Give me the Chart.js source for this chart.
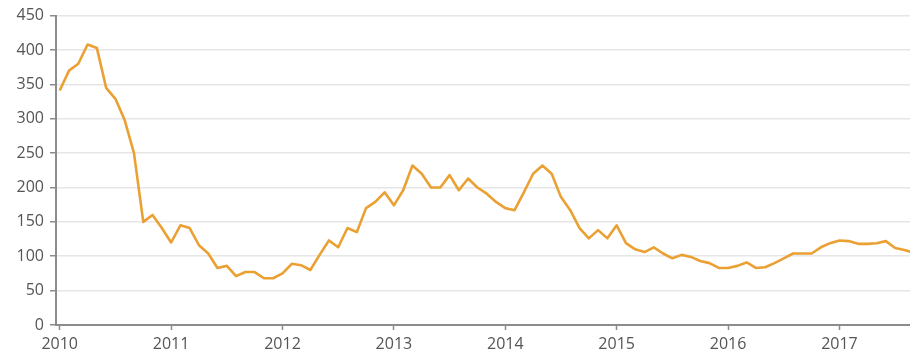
<!DOCTYPE html>
<html lang="en">
  <head>
    <meta charset="UTF-8" />
    <title>Monthly index 2010-2017</title>
    <script src="https://cdn.jsdelivr.net/npm/chart.js@4"></script>
    <style>
      html, body { margin: 0; padding: 0; background: #fff; }
      #wrap { width: 910px; height: 361px; }
    </style>
  </head>
  <body>
    <div id="wrap"><canvas id="myChart" width="910" height="361"></canvas></div>

    <script>
      // monthly readings, first one is Jan 2010
      const values = [
        341, 370, 380, 408, 403, 345, 329, 298, 250, 150, 160, 141,
        120, 145, 141, 116, 104, 83, 86, 71, 77, 77, 68, 68,
        75, 89, 87, 80, 102, 123, 113, 141, 135, 170, 179, 193,
        174, 196, 232, 220, 200, 200, 218, 196, 213, 200, 191, 179,
        170, 167, 193, 220, 232, 220, 186, 167, 141, 126, 138, 126,
        145, 119, 110, 106, 113, 104, 97, 102, 99, 93, 90, 83,
        83, 86, 91, 83, 84, 90, 97, 104, 104, 104, 113, 119,
        123, 122, 118, 118, 119, 122, 112, 109, 105
      ];
      const yearLabels = ['2010', '2011', '2012', '2013', '2014', '2015', '2016', '2017'];
      const yTicks = [0, 50, 100, 150, 200, 250, 300, 350, 400, 450];

      const points = values.map((v, i) => ({ x: i, y: v }));
      const axisGrey = '#8c8c8c';

      window.addEventListener('load', setup);

      function setup() {
        const ctx = document.getElementById('myChart').getContext('2d');
        new Chart(ctx, {
          type: 'line',
          data: {
            datasets: [
              {
                data: points,
                borderColor: '#eaa032',
                borderWidth: 2.6,
                pointRadius: 0,
                tension: 0,
                borderJoinStyle: 'round',
                fill: false
              }
            ]
          },
          options: {
            responsive: false,
            animation: false,
            layout: { padding: { top: 15, right: 0, left: 0, bottom: 0 } },
            plugins: { legend: { display: false }, tooltip: { enabled: false } },
            scales: {
              x: {
                type: 'linear',
                min: -0.4,
                max: 91.6,
                afterBuildTicks: scale => {
                  scale.ticks = yearLabels.map((_, k) => ({ value: k * 12 }));
                },
                afterFit: scale => { scale.height = 36; },
                border: { display: true, color: axisGrey, width: 2 },
                grid: {
                  display: true,
                  drawOnChartArea: false,
                  drawTicks: true,
                  tickLength: 5,
                  tickColor: axisGrey,
                  tickWidth: 1.5
                },
                ticks: {
                  color: '#555',
                  font: { family: 'Open Sans', size: 16 },
                  padding: 5,
                  maxRotation: 0,
                  autoSkip: false,
                  callback: (val, idx) => yearLabels[idx]
                }
              },
              y: {
                min: 0,
                max: 450,
                afterBuildTicks: scale => {
                  scale.ticks = yTicks.map(v => ({ value: v }));
                },
                afterFit: scale => { scale.width = 56; },
                border: { display: true, color: axisGrey, width: 2 },
                grid: {
                  color: '#e6e6e6',
                  lineWidth: 1.5,
                  drawTicks: true,
                  tickLength: 6,
                  tickColor: axisGrey
                },
                ticks: {
                  color: '#555',
                  font: { family: 'Open Sans', size: 16 },
                  padding: 6
                }
              }
            }
          }
        });
      }
    </script>
  </body>
</html>
